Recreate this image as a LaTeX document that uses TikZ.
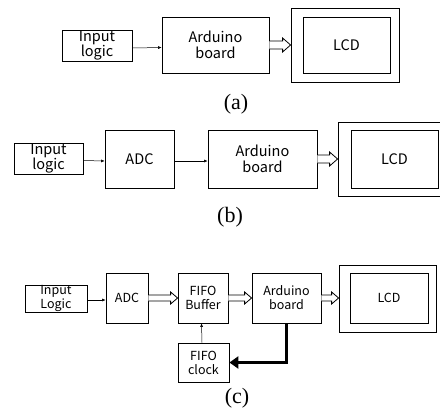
\documentclass[tikz,border=0pt]{standalone}
\usepackage{fontspec}
\newfontfamily\lab{Noto Sans CJK KR}
\setmainfont{Liberation Serif}
\usetikzlibrary{arrows.meta,calc}
\tikzset{
  box/.style={draw, line width=0.8pt, inner sep=0pt, align=center, font=\lab\fontsize{14.5}{15.5}\selectfont},
  sbox/.style={box, font=\lab\fontsize{12.5}{14}\selectfont},
  thinarr/.style={line width=0.5pt, -{Latex[length=3.5pt,width=3pt]}},
  thickarr/.style={line width=3pt, -{Triangle[length=9pt,width=12pt]}},
  captext/.style={font=\fontsize{22}{24}\selectfont}
}
\newcommand\harrow[4]{%
  \draw[line width=0.8pt, fill=white] let \p1=(#1), \p2=(#2) in
   (\x1,\y1+#3) -- (\x2-#4,\y1+#3) -- (\x2-#4,\y1+#3+3pt) -- (\x2,\y1) -- (\x2-#4,\y1-#3-3pt) -- (\x2-#4,\y1-#3) -- (\x1,\y1-#3);}
\begin{document}
\begin{tikzpicture}[x=1pt,y=-1pt]
\fill[white] (0,0) rectangle (440,416);
\useasboundingbox (0,0) rectangle (440,416);
% (a)
\node[box, minimum width=70, minimum height=31] (ina) at (97,45.5) {Input\\logic};
\node[box, minimum width=107, minimum height=56] (arda) at (215.5,45) {Arduino\\board};
\node[box, minimum width=108, minimum height=74] (lcdoa) at (345,45) {};
\node[box, minimum width=87, minimum height=56] (lcdia) at (346.5,45) {LCD};
\draw[thinarr] ([yshift=-2.5pt]ina.east) -- ([yshift=-2.5pt]arda.west);
\harrow{arda.east}{lcdoa.west}{4pt}{8pt}
\node[captext] (capa) at (236,104) {(a)};
% (b)
\node[box, minimum width=69, minimum height=31] (inb) at (48.5,158.5) {Input\\logic};
\node[box, minimum width=69, minimum height=58] (adcb) at (139.5,159) {ADC};
\node[box, minimum width=109, minimum height=58] (ardb) at (262.5,159) {Arduino\\board};
\node[box, minimum width=117, minimum height=74] (lcdob) at (396.5,159) {};
\node[box, minimum width=87, minimum height=58] (lcdib) at (394.5,159) {LCD};
\draw[thinarr] ([yshift=-2pt]inb.east) -- ([yshift=-2pt]adcb.west);
\draw[thinarr] ([yshift=-2pt]adcb.east) -- ([yshift=-2pt]ardb.west);
\harrow{ardb.east}{lcdob.west}{4pt}{8pt}
\node[captext] (capb) at (230,217) {(b)};
% (c)
\node[sbox, minimum width=62, minimum height=27] (inc) at (56,298.5) {Input\\Logic};
\node[sbox, minimum width=42, minimum height=50] (adcc) at (127,298) {ADC};
\node[sbox, minimum width=50, minimum height=50] (fifoc) at (203,298) {FIFO\\Buffer};
\node[sbox, minimum width=69, minimum height=50] (ardc) at (286.5,298) {Arduino\\board};
\node[sbox, minimum width=97, minimum height=67] (lcdoc) at (387.5,298.5) {};
\node[sbox, minimum width=78, minimum height=50] (lcdic) at (389,298) {LCD};
\node[sbox, minimum width=51, minimum height=39] (clkc) at (203.5,362.5) {FIFO\\clock};
\draw[thinarr] ([yshift=-1.5pt]inc.east) -- ([yshift=-2pt]adcc.west);
\harrow{adcc.east}{fifoc.west}{3pt}{7pt}
\harrow{fifoc.east}{ardc.west}{3pt}{7pt}
\harrow{ardc.east}{lcdoc.west}{3pt}{7pt}
\draw[thinarr] ([xshift=-1.5pt]clkc.north) -- ([xshift=-1.5pt]fifoc.south);
\draw[thickarr] (ardc.south) |- (clkc.east);
\node[captext] (capc) at (237,398) {(c)};
\end{tikzpicture}
\end{document}
